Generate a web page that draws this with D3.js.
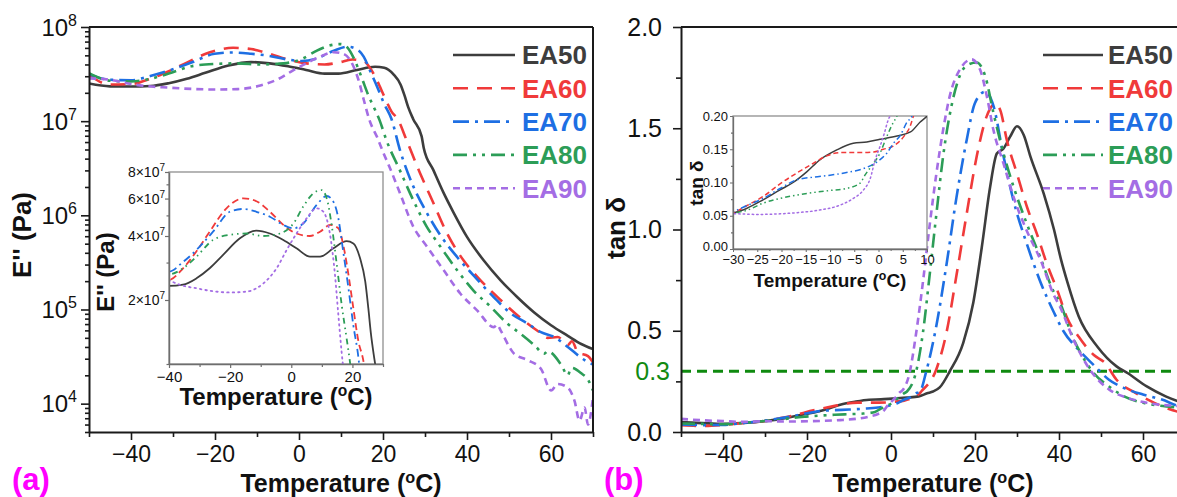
<!DOCTYPE html>
<html><head><meta charset="utf-8">
<script src="https://cdn.jsdelivr.net/npm/d3@7"></script>
<style>
body{margin:0;background:#fff;}
svg text{font-family:"Liberation Sans",Arial,Helvetica,sans-serif;}
</style></head><body>
<script>
// ---------------- DATA ----------------
const seriesNames = ["EA50","EA60","EA70","EA80","EA90"];
const seriesColors = ["#3d3d3d","#f03a3a","#1e6fe3","#2c9d57","#a46de4"];

// Loss modulus E'' (Pa) vs temperature (°C)
const lossT_EA50 = [-50,-45,-40,-35.4,-31,-26.7,-22.3,-16.8,-11.4,-7,-2.6,1.7,6.1,9.4,13.8,18.1,20.3,22.5,24.2,25.2,26,27.2,29.2,29.7,32,34.4,36.8,40,44,48,52,56,60,64,67.2,70];
const lossE_EA50 = [2.51e7,2.34e7,2.33e7,2.36e7,2.53e7,2.82e7,3.26e7,3.90e7,4.24e7,4.11e7,3.83e7,3.50e7,3.20e7,3.20e7,3.50e7,3.78e7,3.69e7,3.14e7,2.44e7,1.83e7,1.41e7,1.05e7,6.9e6,5.2e6,3.02e6,1.74e6,1.07e6,5.9e5,3.31e5,2.04e5,1.35e5,9.3e4,6.8e4,5.25e4,4.3e4,3.8e4];
const lossT_EA60 = [-50,-45,-40,-35.4,-31,-26.7,-21.2,-15.7,-11.4,-7,-2.6,1.7,6.1,9.4,12.7,15.4,17,18.7,20.3,22,23.5,25.6,28.8,32,35.2,39.2,42.4,48,52.8,57.6,59.2,61.6,64,65,66.4,68.8,70];
const lossE_EA60 = [3.09e7,2.45e7,2.48e7,2.82e7,3.39e7,4.19e7,5.40e7,6.01e7,5.83e7,5.20e7,4.51e7,4.11e7,4.00e7,4.19e7,4.51e7,4.35e7,3.63e7,2.63e7,1.83e7,1.27e7,1.05e7,6.3e6,2.82e6,1.35e6,6.5e5,3.31e5,2.24e5,1.26e5,8.1e4,5.6e4,5.0e4,5.1e4,4.2e4,4.6e4,3.5e4,3.2e4,2.75e4];
const lossT_EA70 = [-50,-45,-40,-35.4,-31,-25.6,-20.1,-15.7,-11.4,-7,-2.6,0.7,3.9,8.3,11.6,13.8,15.4,17,18.7,20.3,22,24,27.2,30.4,33.6,37.6,41.6,46.4,50.4,54.4,57.6,60.8,64,68,70];
const lossE_EA70 = [3.16e7,2.75e7,2.72e7,3.02e7,3.44e7,4.19e7,5.20e7,5.36e7,5.20e7,4.93e7,4.51e7,4.35e7,4.58e7,5.60e7,6.17e7,5.79e7,4.84e7,3.37e7,2.27e7,1.52e7,1.06e7,5.0e6,2.04e6,1.07e6,6.2e5,3.63e5,2.29e5,1.35e5,9.1e4,7.1e4,5.75e4,5.1e4,4.0e4,2.9e4,2.6e4];
const lossT_EA80 = [-50,-45,-40,-35.4,-31,-25.6,-20.1,-14.6,-9.2,-3.7,0.7,3.9,7.2,9.9,11.6,13.2,14.9,16.5,18.1,19.2,20.8,24,27.2,30.4,33.6,37.6,41.6,45.6,49.6,52.8,56,58.4,59.2,62.4,64,64.8,67.2,68.8,70];
const lossE_EA80 = [3.24e7,2.69e7,2.64e7,2.82e7,3.20e7,3.83e7,4.05e7,4.11e7,4.00e7,4.11e7,4.58e7,5.50e7,6.35e7,6.58e7,6.01e7,4.51e7,2.92e7,1.89e7,1.32e7,1.02e7,6.3e6,3.02e6,1.45e6,7.6e5,4.7e5,2.63e5,1.58e5,1.07e5,7.1e4,5.5e4,4.2e4,3.4e4,3.6e4,2.6e4,2.0e4,2.4e4,2.1e4,1.8e4,1.38e4];
const lossT_EA90 = [-50,-45,-40,-36.5,-31,-25.6,-20.1,-14.6,-9.2,-4.8,-1.5,1.7,5,8.3,10.5,12.7,14.3,15.4,16.8,18.7,20.1,21.5,24,27.2,30.4,34.4,38.4,42.4,46.4,47.2,48,51.2,54.4,57.6,60,61.6,64,65.6,66.8,68,68.8,70];
const lossE_EA90 = [2.85e7,2.75e7,2.48e7,2.36e7,2.27e7,2.20e7,2.17e7,2.19e7,2.39e7,2.82e7,3.44e7,4.11e7,4.84e7,5.40e7,5.20e7,4.05e7,2.62e7,1.70e7,1.02e7,6.6e6,4.6e6,3.3e6,1.74e6,7.6e5,4.7e5,2.63e5,1.48e5,9.8e4,6.5e4,6.9e4,6.0e4,3.4e4,2.9e4,2.35e4,1.38e4,1.62e4,1.48e4,1.07e4,6.6e3,9.1e3,6.0e3,1.17e4];

// tan delta vs temperature (°C)
const tanT_EA50 = [-50,-45,-40,-35,-30,-27.2,-23.8,-20.3,-17.6,-14.8,-12.1,-8.6,-5.2,-2.4,0.3,3.8,6.6,8.6,10,11.6,14,17.2,19.6,21.6,23.6,25.2,26.8,28.4,30,31.6,33.2,36.4,38.8,40.5,42,44.7,49.2,53.7,56.4,60.9,65.4,70];
const tanV_EA50 = [0.049,0.044,0.040,0.045,0.054,0.061,0.074,0.089,0.100,0.116,0.134,0.149,0.159,0.161,0.165,0.170,0.176,0.191,0.200,0.220,0.300,0.440,0.640,0.910,1.210,1.375,1.400,1.460,1.510,1.467,1.360,1.175,1.000,0.850,0.740,0.570,0.420,0.324,0.290,0.225,0.176,0.140];
const tanT_EA60 = [-50,-45,-40,-35,-30,-27.2,-23.8,-20.3,-16.9,-13.4,-10.7,-7.9,-4.5,-1,1,3.1,5.2,6.6,7.2,10.8,13.2,15.6,18,20.4,22.8,24.8,26,27.6,30,32.4,34.8,37.2,39.6,42,44.7,48.3,51,53.7,58.2,62.7,68.9,70];
const tanV_EA60 = [0.033,0.030,0.035,0.045,0.054,0.065,0.079,0.098,0.114,0.129,0.140,0.145,0.145,0.146,0.150,0.155,0.169,0.186,0.200,0.310,0.490,0.775,1.075,1.360,1.560,1.620,1.590,1.440,1.275,1.110,0.975,0.825,0.700,0.560,0.470,0.380,0.340,0.258,0.193,0.144,0.098,0.095];
const tanT_EA70 = [-50,-45,-40,-35,-30,-27.2,-23.8,-20.3,-16.9,-13.4,-10,-6.6,-3.1,-0.3,1.7,3.1,4.5,5.9,6.9,8.4,10.8,13.2,15.6,18,20,22.4,24.4,26.8,29.2,32.4,35.6,38.8,41,44.7,48.3,51.9,55.5,60,64.5,68.9,70];
const tanV_EA70 = [0.037,0.034,0.035,0.045,0.056,0.065,0.076,0.091,0.104,0.108,0.111,0.115,0.121,0.131,0.144,0.159,0.171,0.191,0.200,0.300,0.525,0.825,1.160,1.440,1.625,1.680,1.610,1.360,1.140,0.925,0.740,0.590,0.500,0.405,0.330,0.258,0.217,0.185,0.160,0.127,0.125];
const tanT_EA80 = [-50,-45,-40,-35,-30,-27.2,-23.8,-20.3,-16.9,-13.4,-10,-6.6,-3.8,-2.8,-1,0.3,1.7,3.1,3.8,6,7.6,9.2,10.8,12.4,14.4,16.4,18,20.4,22.4,24.4,26.8,29.2,32.4,35.6,38.8,40.2,42.9,45.6,48.3,51.9,55.5,60,64,68.9,70];
const tanV_EA80 = [0.042,0.040,0.038,0.045,0.054,0.058,0.069,0.076,0.081,0.085,0.088,0.091,0.099,0.111,0.129,0.144,0.169,0.191,0.200,0.300,0.490,0.775,1.075,1.360,1.610,1.760,1.810,1.825,1.760,1.575,1.375,1.210,1.025,0.860,0.690,0.640,0.487,0.373,0.290,0.225,0.176,0.144,0.130,0.120,0.118];
const tanT_EA90 = [-50,-45,-40,-35,-30,-25,-16.9,-12.1,-7.9,-5.2,-3.1,-1.7,-0.7,0.3,1.2,2.1,2.4,4.4,6,7.6,9.2,10.8,12.4,14,16.4,19.2,21.2,22.8,24.4,26.8,29.2,32.4,35.6,38.8,40.2,43.8,47.4,51.9,56.4,60.9,68.9,70];
const tanV_EA90 = [0.065,0.058,0.054,0.050,0.053,0.052,0.0546,0.0586,0.066,0.076,0.0887,0.106,0.134,0.154,0.174,0.196,0.200,0.290,0.490,0.740,1.020,1.275,1.490,1.660,1.790,1.840,1.790,1.660,1.490,1.325,1.160,0.990,0.850,0.675,0.620,0.440,0.307,0.210,0.168,0.144,0.127,0.125];

// tick values
const tempTicks = [-40,-20,0,20,40,60];
const tempMinorTicks = [-50,-30,-10,10,30,50,70];
const lossTicks = [1e4,1e5,1e6,1e7,1e8];
const tanTicks = [0,0.5,1.0,1.5,2.0];
const tanMinorTicks = [0.25,0.75,1.25,1.75];
const insetLossTicks = [2e7,4e7,6e7,8e7];
const insetLossMinor = [1e7,3e7,5e7,7e7];
const insetLossTempTicks = [-40,-20,0,20];
const insetLossTempMinor = [-30,-10,10,30];
const insetTanTicks = [0,0.05,0.10,0.15,0.20];
const insetTanMinor = [0.025,0.075,0.125,0.175];
const insetTanTempTicks = [-30,-25,-20,-15,-10,-5,0,5,10];
const insetTanTempMinor = [-27.5,-22.5,-17.5,-12.5,-7.5,-2.5,2.5,7.5];
const tanThreshold = 0.3;

const lossT = [lossT_EA50,lossT_EA60,lossT_EA70,lossT_EA80,lossT_EA90];
const lossE = [lossE_EA50,lossE_EA60,lossE_EA70,lossE_EA80,lossE_EA90];
const tanT = [tanT_EA50,tanT_EA60,tanT_EA70,tanT_EA80,tanT_EA90];
const tanV = [tanV_EA50,tanV_EA60,tanV_EA70,tanV_EA80,tanV_EA90];

// ---------------- STYLE ----------------
const mainDash = [null,"15,9","16,6,3,6","14,6,3,6,3,6","7,5"];
const insetDash = [null,"7,4","8,4,2,4","6,4,1.5,4,1.5,4","1.5,4"];
const rinsetDash = [null,"5,3","6,3,1.5,3","5,3,1.5,3,1.5,3","1.5,3"];
const FONT = '"Liberation Sans", Arial, Helvetica, sans-serif';
const AX = "#1a1a1a";

const W = 1177, H = 497;
const svg = d3.select("body").append("svg").attr("width", W).attr("height", H).style("display","block");
const defs = svg.append("defs");
function clip(id, x0, y0, x1, y1){
  defs.append("clipPath").attr("id", id).append("rect")
    .attr("x", x0).attr("y", y0).attr("width", x1-x0).attr("height", y1-y0);
  return "url(#"+id+")";
}
function drawSeries(g, xs, ys, Ts, Vs, dashes, lw, clipUrl){
  const line = d3.line().x(d=>xs(d[0])).y(d=>ys(d[1])).curve(d3.curveMonotoneX);
  const gg = g.append("g").attr("clip-path", clipUrl);
  Ts.forEach((T,i)=>{
    const pts = T.map((t,j)=>[t, Vs[i][j]]);
    const p = gg.append("path").attr("d", line(pts)).attr("fill","none")
      .attr("stroke", seriesColors[i]).attr("stroke-width", lw)
      .attr("stroke-linejoin","round");
    if (dashes[i]) p.attr("stroke-dasharray", dashes[i]);
    if (dashes[i] && dashes[i].startsWith("1.5")) p.attr("stroke-linecap","round");
  });
}
function styleAxis(g, color, lw, fs){
  g.attr("font-family", FONT).attr("font-size", fs);
  g.select(".domain").attr("stroke", color).attr("stroke-width", lw);
  g.selectAll(".tick line").attr("stroke", color).attr("stroke-width", lw*0.8);
  g.selectAll(".tick text").attr("fill", "#111");
}
function tempTitle(g, x, y, fs){
  const t = g.append("text").attr("x", x).attr("y", y).attr("text-anchor","middle")
    .attr("font-weight","bold").attr("font-size", fs).attr("fill","#111");
  t.append("tspan").text("Temperature (");
  t.append("tspan").attr("dy", -fs*0.38).attr("font-size", fs*0.65).text("o");
  t.append("tspan").attr("dy", fs*0.38).text("C)");
}
function legend(g, x0, x1, tx){
  seriesNames.forEach((n,i)=>{
    const cy = 55 + i*33.3;
    const l = g.append("line").attr("x1", x0).attr("x2", x1).attr("y1", cy).attr("y2", cy)
      .attr("stroke", seriesColors[i]).attr("stroke-width", 2.6);
    if (mainDash[i]) l.attr("stroke-dasharray", mainDash[i]);
    g.append("text").attr("x", tx).attr("y", cy+9.4).attr("font-size", 26)
      .attr("font-weight","bold").attr("fill", seriesColors[i]).text(n);
  });
}

// ================= PANEL (a) =================
const xA = d3.scaleLinear().domain([-50,70]).range([89,593]);
const yA = d3.scaleLog().domain([5e3,1e8]).range([432,27]);
const gA = svg.append("g");
drawSeries(gA, xA, yA, lossT, lossE, mainDash, 2.6, clip("cA",89,27,593,432));

const axA = gA.append("g").attr("transform","translate(0,432)")
  .call(d3.axisBottom(xA).tickValues(tempTicks).tickSize(8).tickPadding(6).tickSizeOuter(0));
styleAxis(axA, AX, 2, 23);
const axAm = gA.append("g").attr("transform","translate(0,432)")
  .call(d3.axisBottom(xA).tickValues(tempMinorTicks).tickSize(5).tickFormat("").tickSizeOuter(0));
styleAxis(axAm, AX, 2, 23); axAm.select(".domain").remove();

const ayA = gA.append("g").attr("transform","translate(89,0)")
  .call(d3.axisLeft(yA).tickValues(lossTicks).tickSize(8).tickFormat("").tickSizeOuter(0));
styleAxis(ayA, AX, 2, 24);
const lossMinor = [];
[3,4,5,6,7].forEach(k=>{ for(let m=2;m<=9;m++){ const v=m*Math.pow(10,k); if(v>=5e3 && v<1e8) lossMinor.push(v);} });
const ayAm = gA.append("g").attr("transform","translate(89,0)")
  .call(d3.axisLeft(yA).tickValues(lossMinor).tickSize(4).tickFormat("").tickSizeOuter(0));
styleAxis(ayAm, AX, 2, 24); ayAm.select(".domain").remove();
lossTicks.forEach(v=>{
  const t = gA.append("text").attr("x", 77).attr("y", yA(v)+8.5).attr("text-anchor","end")
    .attr("font-size", 24).attr("fill","#111");
  t.append("tspan").text("10");
  t.append("tspan").attr("dy",-10).attr("font-size",16).text(Math.round(Math.log10(v)));
});
gA.append("line").attr("x1",89).attr("x2",593).attr("y1",27).attr("y2",27).attr("stroke",AX).attr("stroke-width",2);
gA.append("line").attr("x1",593).attr("x2",593).attr("y1",27).attr("y2",432).attr("stroke",AX).attr("stroke-width",2);

legend(gA, 453, 515, 522);
tempTitle(gA, 341, 492, 25);
gA.append("text").attr("transform","translate(31,235) rotate(-90)").attr("text-anchor","middle")
  .attr("font-size",26).attr("font-weight","bold").attr("fill","#111").text("E'' (Pa)");
gA.append("text").attr("x",12).attr("y",490).attr("font-size",31).attr("font-weight","bold")
  .attr("fill","#ff00ff").text("(a)");

// ---- inset (a) ----
const xIA = d3.scaleLinear().domain([-40,30]).range([169,383]);
const yIA = d3.scaleLog().domain([1e7,8e7]).range([364,172]);
const gIA = svg.append("g");
gIA.append("rect").attr("x",169).attr("y",172).attr("width",214).attr("height",192).attr("fill","#fff")
  .attr("stroke","#8f8f8f").attr("stroke-width",1.3);
drawSeries(gIA, xIA, yIA, lossT, lossE, insetDash, 1.8, clip("cIA",169,172,383,364));
const axIA = gIA.append("g").attr("transform","translate(0,364)")
  .call(d3.axisBottom(xIA).tickValues(insetLossTempTicks).tickSize(4).tickPadding(3).tickSizeOuter(0));
styleAxis(axIA, "#6e6e6e", 1.5, 15);
const axIAm = gIA.append("g").attr("transform","translate(0,364)")
  .call(d3.axisBottom(xIA).tickValues(insetLossTempMinor).tickSize(3).tickFormat("").tickSizeOuter(0));
styleAxis(axIAm, "#6e6e6e", 1.5, 15); axIAm.select(".domain").remove();
const ayIA = gIA.append("g").attr("transform","translate(169,0)")
  .call(d3.axisLeft(yIA).tickValues(insetLossTicks).tickSize(4).tickFormat("").tickSizeOuter(0));
styleAxis(ayIA, "#6e6e6e", 1.5, 14);
const ayIAm = gIA.append("g").attr("transform","translate(169,0)")
  .call(d3.axisLeft(yIA).tickValues(insetLossMinor).tickSize(2.5).tickFormat("").tickSizeOuter(0));
styleAxis(ayIAm, "#6e6e6e", 1.5, 14); ayIAm.select(".domain").remove();
insetLossTicks.forEach(v=>{
  const t = gIA.append("text").attr("x",165).attr("y",yIA(v)+5).attr("text-anchor","end")
    .attr("font-size",14).attr("fill","#111");
  t.append("tspan").text(Math.round(v/1e7)+"×10");
  t.append("tspan").attr("dy",-6).attr("font-size",10).text("7");
});
tempTitle(gIA, 276, 405, 24);
gIA.append("text").attr("transform","translate(114,272) rotate(-90)").attr("text-anchor","middle")
  .attr("font-size",24).attr("font-weight","bold").attr("fill","#111").text("E'' (Pa)");

// ================= PANEL (b) =================
const xB = d3.scaleLinear().domain([-50,70]).range([681,1185]);
const yB = d3.scaleLinear().domain([0,2]).range([432,27]);
const gB = svg.append("g");
gB.append("line").attr("x1",xB(-50)).attr("x2",xB(70)).attr("y1",yB(tanThreshold)).attr("y2",yB(tanThreshold))
  .attr("stroke","#0f8a0f").attr("stroke-width",3).attr("stroke-dasharray","10,6");
drawSeries(gB, xB, yB, tanT, tanV, mainDash, 2.6, clip("cB",681,27,1185,432));

const axB = gB.append("g").attr("transform","translate(0,432)")
  .call(d3.axisBottom(xB).tickValues(tempTicks).tickSize(8).tickPadding(6).tickSizeOuter(0));
styleAxis(axB, AX, 2, 23);
const axBm = gB.append("g").attr("transform","translate(0,432)")
  .call(d3.axisBottom(xB).tickValues(tempMinorTicks).tickSize(5).tickFormat("").tickSizeOuter(0));
styleAxis(axBm, AX, 2, 23); axBm.select(".domain").remove();
const ayB = gB.append("g").attr("transform","translate(681,0)")
  .call(d3.axisLeft(yB).tickValues(tanTicks).tickSize(8).tickPadding(11).tickFormat(d3.format(".1f")).tickSizeOuter(0));
styleAxis(ayB, AX, 2, 25);
const ayBm = gB.append("g").attr("transform","translate(681,0)")
  .call(d3.axisLeft(yB).tickValues(tanMinorTicks).tickSize(5).tickFormat("").tickSizeOuter(0));
styleAxis(ayBm, AX, 2, 25); ayBm.select(".domain").remove();
gB.append("text").attr("x",670).attr("y",yB(tanThreshold)+9).attr("text-anchor","end")
  .attr("font-size",25).attr("fill","#118a11").text(d3.format(".1f")(tanThreshold));
gB.append("line").attr("x1",681).attr("x2",1185).attr("y1",27).attr("y2",27).attr("stroke",AX).attr("stroke-width",2);

legend(gB, 1043, 1103, 1108);
tempTitle(gB, 933, 492, 25);
gB.append("text").attr("transform","translate(625,228) rotate(-90)").attr("text-anchor","middle")
  .attr("font-size",26).attr("font-weight","bold").attr("fill","#111").text("tan δ");
gB.append("text").attr("x",604).attr("y",490).attr("font-size",31).attr("font-weight","bold")
  .attr("fill","#ff00ff").text("(b)");

// ---- inset (b) ----
const xIB = d3.scaleLinear().domain([-30,10]).range([733,927]);
const yIB = d3.scaleLinear().domain([0,0.2]).range([249,116]);
const gIB = svg.append("g");
gIB.append("rect").attr("x",733).attr("y",116).attr("width",194).attr("height",133).attr("fill","#fff")
  .attr("stroke","#8f8f8f").attr("stroke-width",1.3);
drawSeries(gIB, xIB, yIB, tanT, tanV, rinsetDash, 1.5, clip("cIB",733,116,927,249));
const axIB = gIB.append("g").attr("transform","translate(0,249)")
  .call(d3.axisBottom(xIB).tickValues(insetTanTempTicks).tickSize(3).tickPadding(3).tickSizeOuter(0));
styleAxis(axIB, "#6e6e6e", 1.3, 13);
const axIBm = gIB.append("g").attr("transform","translate(0,249)")
  .call(d3.axisBottom(xIB).tickValues(insetTanTempMinor).tickSize(2).tickFormat("").tickSizeOuter(0));
styleAxis(axIBm, "#6e6e6e", 1.3, 13); axIBm.select(".domain").remove();
const ayIB = gIB.append("g").attr("transform","translate(733,0)")
  .call(d3.axisLeft(yIB).tickValues(insetTanTicks).tickSize(3).tickPadding(2).tickFormat(d3.format(".2f")).tickSizeOuter(0));
styleAxis(ayIB, "#6e6e6e", 1.3, 13);
ayIB.selectAll(".tick text").filter(d=>d===0).attr("dy","0.1em");
const ayIBm = gIB.append("g").attr("transform","translate(733,0)")
  .call(d3.axisLeft(yIB).tickValues(insetTanMinor).tickSize(2).tickFormat("").tickSizeOuter(0));
styleAxis(ayIBm, "#6e6e6e", 1.3, 13); ayIBm.select(".domain").remove();
tempTitle(gIB, 830, 287, 19);
gIB.append("text").attr("transform","translate(703,183) rotate(-90)").attr("text-anchor","middle")
  .attr("font-size",19).attr("font-weight","bold").attr("fill","#111").text("tan δ");
</script>
</body></html>
